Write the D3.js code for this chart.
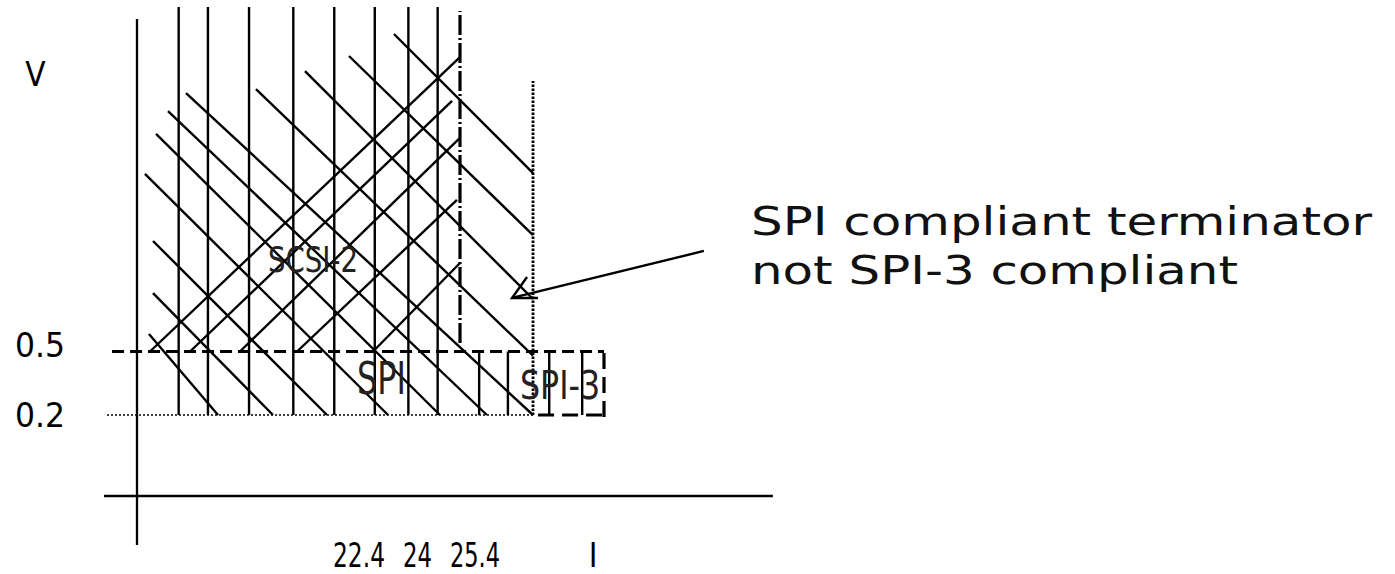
<!DOCTYPE html>
<html>
<head>
<meta charset="utf-8">
<script src="https://cdn.jsdelivr.net/npm/d3@7"></script>
<style>
body { margin: 0; background: #fff; }
text { font-family: "Liberation Sans Narrow", "DejaVu Sans Condensed", sans-serif; }
</style>
</head>
<body>
<div id="chart"></div>
<script>
// axis ticks
var vTicks = [0.2, 0.5];
var vTickLabels = ["0.2", "0.5"];
var iTicks = [22.4, 24, 25.4];
var iTickLabels = ["22.4", "24", "25.4"];

// limits of the three regions (current I, voltage V)
var scsiLimit = 22.4;
var spiLimit = 24;
var spi3Limit = 25.4;
var vLow = 0.2;
var vHigh = 0.5;

// vertical hatching, I values
var scsiHatch = [2.89, 4.92, 7.77, 10.84, 13.68, 16.49, 18.82, 20.85];
var spiHatch = [22.82, 23.45];
var spi3Hatch = [24.32, 24.97];

// "\" hatching [I0, V0, I1, V1]
var downHatch = [
  [17.82, 2.0, 24, 1.343],
  [14.70, 1.896, 24, 1.050],
  [11.65, 1.825, 24, 0.748],
  [8.25, 1.740, 24, 0.48],
  [3.40, 1.721, 24, 0.2],
  [2.15, 1.636, 22.99, 0.2],
  [1.32, 1.528, 21.01, 0.2],
  [0.55, 1.339, 17.41, 0.2],
  [1.11, 1.022, 13.18, 0.2],
  [1.11, 0.776, 9.43, 0.2],
  [0.83, 0.583, 5.62, 0.2]
];

// "/" hatching [I0, V0, I1, V1]
var upHatch = [
  [0.90, 0.5, 22.4, 1.891],
  [3.68, 0.5, 21.85, 1.684],
  [7.14, 0.5, 22.4, 1.509],
  [11.10, 0.5, 22.19, 1.216],
  [16.37, 0.5, 22.4, 0.918]
];

// arrow from the note to the gap region [I0, V0, I1, V1]
var arrow = [27.37, 0.975, 23.54, 0.753];

var svgWidth = 1395;
var svgHeight = 574;

var svg = d3.select("#chart")
  .append("svg")
  .attr("width", svgWidth)
  .attr("height", svgHeight)
  .style("background", "#fff");

// piecewise scales: the sketch is not drawn to scale
var x = d3.scaleLinear().domain([0, 22.4, 24, 25.4]).range([137, 460, 533, 604]);
var y = d3.scaleLinear().domain([0, 0.2, 0.5]).range([496, 415, 351.5]);

var hatchTop = 2.128;

function seg(g, d) {
  return g.append("line")
    .attr("x1", x(d[0])).attr("y1", y(d[1]))
    .attr("x2", x(d[2])).attr("y2", y(d[3]))
    .attr("stroke", "#000")
    .attr("fill", "none");
}

var chart = svg.append("g");

// axes
seg(chart, [0, -0.121, 0, 2.071]).attr("stroke-width", 2.3);
seg(chart, [-2.29, 0, 28.73, 0]).attr("stroke-width", 2.6);

// vertical hatch
scsiHatch.forEach(function(i) {
  seg(chart, [i, vLow, i, hatchTop]).attr("stroke-width", 2.4);
});
spiHatch.concat(spi3Hatch).forEach(function(i) {
  seg(chart, [i, vLow, i, vHigh]).attr("stroke-width", 2.4);
});

// diagonal hatch
downHatch.forEach(function(d) {
  seg(chart, d).attr("stroke-width", 2.4);
});
upHatch.forEach(function(d) {
  seg(chart, d).attr("stroke-width", 2.4);
});

// region borders
seg(chart, [scsiLimit, 0.54, scsiLimit, 2.109])
  .attr("stroke-width", 3.2).attr("stroke-dasharray", "20,3,2,3");
seg(chart, [spiLimit, vLow, spiLimit, 1.778])
  .attr("stroke-width", 2.8).attr("stroke-dasharray", "2.5,1.5");
seg(chart, [-1.73, vHigh, spi3Limit, vHigh])
  .attr("stroke-width", 3.2).attr("stroke-dasharray", "12,6");
seg(chart, [-2.08, vLow, spiLimit, vLow])
  .attr("stroke-width", 1.6).attr("stroke-dasharray", "2,2");
seg(chart, [spi3Limit, 0.493, spi3Limit, 0.183])
  .attr("stroke-width", 3.2).attr("stroke-dasharray", "16,8");
seg(chart, [24.1, vLow, spi3Limit, vLow])
  .attr("stroke-width", 3.2).attr("stroke-dasharray", "16,8");

// arrow, open head drawn a bit lopsided like the original
svg.append("defs").append("marker")
  .attr("id", "head")
  .attr("markerUnits", "userSpaceOnUse")
  .attr("markerWidth", 30).attr("markerHeight", 30)
  .attr("refX", 24).attr("refY", 12)
  .attr("orient", "auto")
  .attr("overflow", "visible")
  .append("path")
  .attr("d", "M4.4,28.8 L24,12 L-1.2,5.8")
  .attr("fill", "none")
  .attr("stroke", "#000")
  .attr("stroke-width", 2.4);

seg(chart, arrow).attr("stroke-width", 2.4).attr("marker-end", "url(#head)");

// tick labels
chart.selectAll(".vtick")
  .data(vTicks)
  .enter()
  .append("text")
  .attr("class", "vtick")
  .attr("x", 40)
  .attr("y", function(d) { return y(d) + (d == vHigh ? 5.5 : 12); })
  .attr("text-anchor", "middle")
  .attr("font-size", 33)
  .attr("textLength", 50)
  .attr("lengthAdjust", "spacingAndGlyphs")
  .text(function(d, i) { return vTickLabels[i]; });

var iTickX = [359, 417.5, 475];
var iTickW = [52, 29, 50];
chart.selectAll(".itick")
  .data(iTicks)
  .enter()
  .append("text")
  .attr("class", "itick")
  .attr("x", function(d, i) { return iTickX[i]; })
  .attr("y", 567)
  .attr("text-anchor", "middle")
  .attr("font-size", 33)
  .attr("textLength", function(d, i) { return iTickW[i]; })
  .attr("lengthAdjust", "spacingAndGlyphs")
  .text(function(d, i) { return iTickLabels[i]; });

// axis names
chart.append("text").attr("x", 35.5).attr("y", 86)
  .attr("text-anchor", "middle").attr("font-size", 33).text("V");
chart.append("text").attr("x", 593).attr("y", 567)
  .attr("text-anchor", "middle").attr("font-size", 33).text("I");

// region names
var regionNames = ["SCSI-2", "SPI", "SPI-3"];
var regionPos = [[268, 271.5, 90, 35], [357, 393.5, 49, 44], [520, 398.5, 80, 39]];
regionNames.forEach(function(name, i) {
  var p = regionPos[i];
  chart.append("text")
    .attr("x", p[0]).attr("y", p[1])
    .attr("font-size", p[3])
    .attr("fill", "#222")
    .attr("textLength", p[2])
    .attr("lengthAdjust", "spacingAndGlyphs")
    .text(name);
});

// note
var note = ["SPI compliant terminator", "not SPI-3 compliant"];
var noteW = [621, 487];
note.forEach(function(t, i) {
  svg.append("text")
    .attr("x", 751)
    .attr("y", 235 + i * 49)
    .attr("font-family", "'DejaVu Sans', sans-serif")
    .attr("font-size", 39)
    .attr("fill", "#111")
    .attr("textLength", noteW[i])
    .attr("lengthAdjust", "spacingAndGlyphs")
    .text(t);
});
</script>
</body>
</html>
